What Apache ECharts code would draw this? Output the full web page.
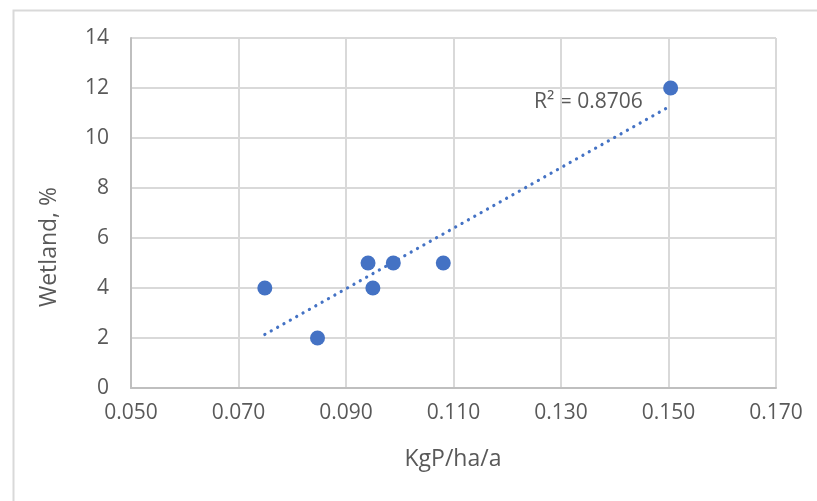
<!DOCTYPE html>
<html><head><meta charset="utf-8">
<script src="https://cdn.jsdelivr.net/npm/echarts@6/dist/echarts.min.js"></script>
<style>html,body{margin:0;padding:0;background:#fff}#c{width:817px;height:501px}</style>
</head><body><div id="c"></div>
<script>
const xValues = [0.0749, 0.0847, 0.0941, 0.0950, 0.0988, 0.1081, 0.1504];
const yValues = [4, 2, 5, 4, 5, 5, 12];
const xTicks = [0.05, 0.07, 0.09, 0.11, 0.13, 0.15, 0.17];
const yTicks = [0, 2, 4, 6, 8, 10, 12, 14];
const xTitle = 'KgP/ha/a';
const yTitle = 'Wetland, %';
const r2Label = 'R² = 0.8706';

// least squares trendline
const n = xValues.length;
const mx = xValues.reduce((a,b)=>a+b,0)/n, my = yValues.reduce((a,b)=>a+b,0)/n;
let sxy=0,sxx=0;
for(let i=0;i<n;i++){sxy+=(xValues[i]-mx)*(yValues[i]-my);sxx+=(xValues[i]-mx)**2;}
const slope=sxy/sxx, icpt=my-slope*mx;
const xmin=Math.min(...xValues), xmax=Math.max(...xValues);
const trend=[[xmin,icpt+slope*xmin],[xmax,icpt+slope*xmax]];

const txt='#595959', font='"Open Sans", "Noto Sans", sans-serif';
const chart=echarts.init(document.getElementById('c'),null,{renderer:'canvas'});
chart.setOption({
  animation:false,
  backgroundColor:'#fff',
  grid:{left:131,right:41,top:38,bottom:113,containLabel:false},
  xAxis:{type:'value',min:xTicks[0],max:xTicks[xTicks.length-1],interval:0.02,
    axisLine:{show:true,onZero:false,lineStyle:{color:'#bfbfbf',width:2}},
    axisTick:{show:false},
    splitLine:{show:true,lineStyle:{color:'#d9d9d9',width:2}},
    axisLabel:{color:txt,fontSize:21,fontFamily:font,margin:15,formatter:v=>v.toFixed(3)}},
  yAxis:{type:'value',min:yTicks[0],max:yTicks[yTicks.length-1],interval:2,
    axisLine:{show:true,lineStyle:{color:'#bfbfbf',width:2}},
    axisTick:{show:false},
    splitLine:{show:true,lineStyle:{color:'#d9d9d9',width:2}},
    axisLabel:{color:txt,fontSize:21,fontFamily:font,margin:22}},
  graphic:[
    {type:'rect',left:11,top:8,shape:{width:830,height:520},style:{fill:null,stroke:'#d9d9d9',lineWidth:2},silent:true,z:-1},
    {type:'text',x:453,y:459,style:{text:xTitle,fill:txt,font:'23px '+font,textAlign:'center',textVerticalAlign:'middle'}},
    {type:'text',x:49,y:247,rotation:Math.PI/2,style:{text:yTitle,fill:txt,font:'23px '+font,textAlign:'center',textVerticalAlign:'middle'}},
    {type:'text',left:534,top:92,style:{text:r2Label,fill:txt,font:'21px '+font}}
  ],
  series:[
    {type:'line',data:trend,symbol:'none',z:1,
      lineStyle:{color:'#4472C4',width:3.2,type:[0.1,7.2],cap:'round'}},
    {type:'scatter',data:xValues.map((x,i)=>[x,yValues[i]]),symbolSize:15,z:2,
      itemStyle:{color:'#4472C4',opacity:1}}
  ]
});
</script></body></html>
